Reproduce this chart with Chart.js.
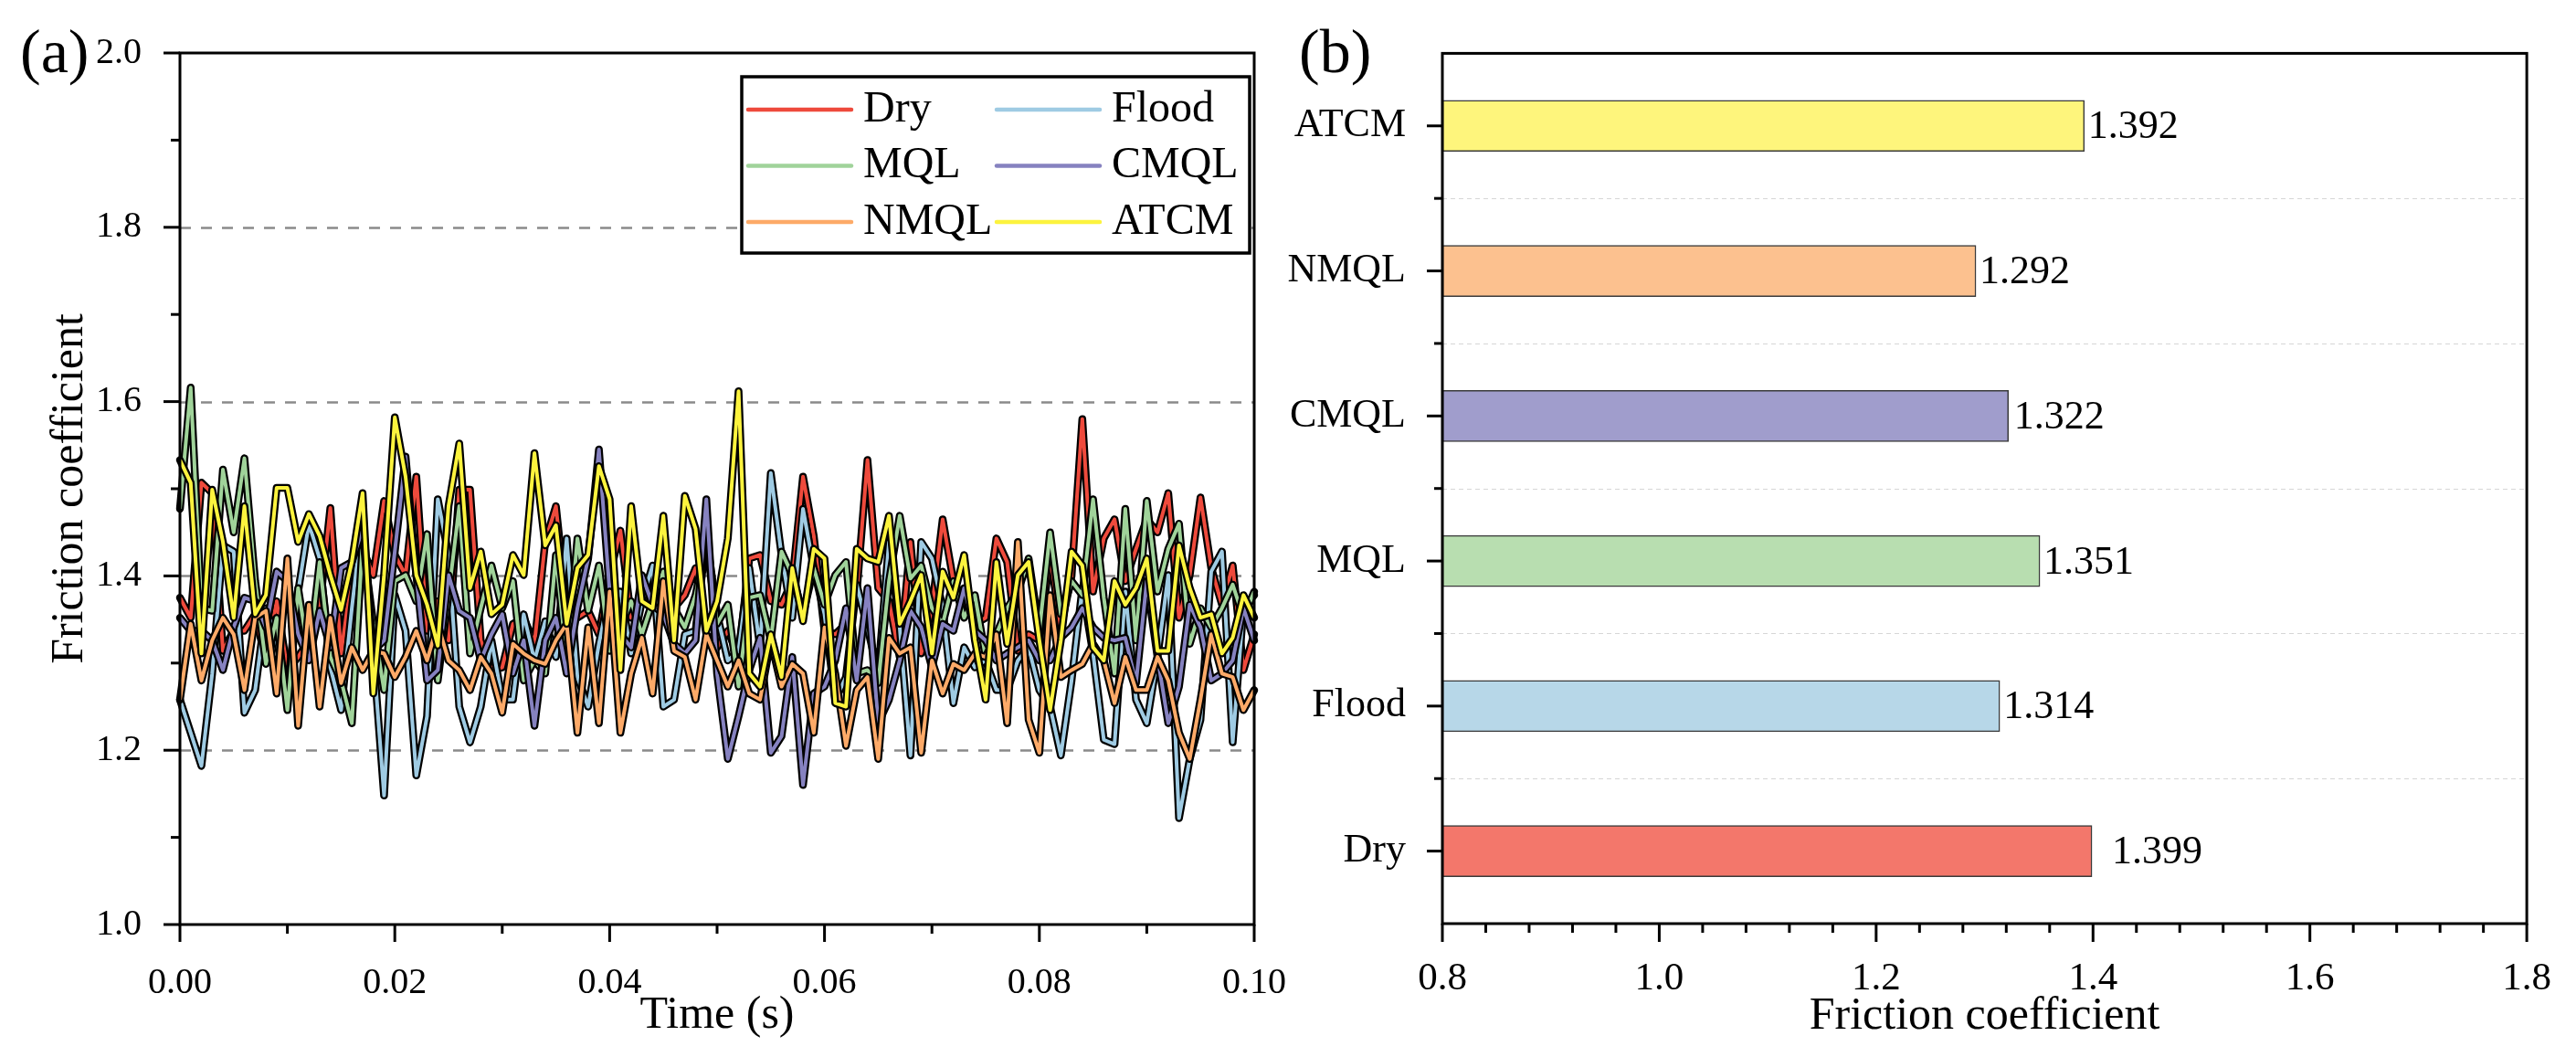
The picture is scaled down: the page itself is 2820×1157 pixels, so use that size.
<!DOCTYPE html>
<html>
<head>
<meta charset="utf-8">
<script src="https://cdn.jsdelivr.net/npm/chart.js@4.4.1/dist/chart.umd.min.js"></script>
<style>
  html, body { margin: 0; padding: 0; background: #fff; }
  #wrap { position: relative; width: 2820px; height: 1157px; }
  #left { position: absolute; left: 0; top: 0; }
  #right { position: absolute; left: 1400px; top: 0; }
</style>
</head>
<body>
<div id="wrap">
  <canvas id="left" width="1440" height="1157"></canvas>
  <canvas id="right" width="1420" height="1157"></canvas>
</div>
<script>
// ---- data (a): friction coefficient vs time, one sample per ms ----
const dry = [1.375, 1.352, 1.507, 1.495, 1.314, 1.337, 1.337, 1.356, 1.303, 1.371,
  1.292, 1.307, 1.326, 1.363, 1.478, 1.311, 1.401, 1.431, 1.401, 1.486,
  1.424, 1.401, 1.514, 1.337, 1.371, 1.326, 1.499, 1.499, 1.326, 1.292,
  1.295, 1.345, 1.352, 1.322, 1.439, 1.480, 1.363, 1.352, 1.360, 1.333,
  1.401, 1.452, 1.352, 1.371, 1.363, 1.378, 1.363, 1.378, 1.409, 1.333,
  1.318, 1.337, 1.307, 1.420, 1.424, 1.371, 1.367, 1.394, 1.514, 1.446,
  1.337, 1.333, 1.345, 1.382, 1.533, 1.386, 1.371, 1.307, 1.439, 1.311,
  1.363, 1.465, 1.394, 1.371, 1.345, 1.352, 1.443, 1.416, 1.314, 1.333,
  1.326, 1.424, 1.341, 1.400, 1.580, 1.382, 1.443, 1.465, 1.394, 1.431,
  1.465, 1.450, 1.495, 1.352, 1.401, 1.490, 1.409, 1.367, 1.412, 1.292,
  1.333];
const flood = [1.258, 1.220, 1.182, 1.288, 1.435, 1.428, 1.243, 1.269, 1.363, 1.326,
  1.269, 1.382, 1.460, 1.420, 1.295, 1.246, 1.363, 1.469, 1.311, 1.148,
  1.378, 1.337, 1.171, 1.239, 1.488, 1.424, 1.250, 1.209, 1.250, 1.326,
  1.258, 1.258, 1.356, 1.303, 1.348, 1.307, 1.443, 1.284, 1.250, 1.322,
  1.382, 1.382, 1.311, 1.371, 1.412, 1.250, 1.258, 1.333, 1.337, 1.446,
  1.356, 1.303, 1.314, 1.409, 1.318, 1.518, 1.424, 1.352, 1.477, 1.409,
  1.356, 1.258, 1.284, 1.390, 1.341, 1.288, 1.439, 1.341, 1.194, 1.439,
  1.420, 1.363, 1.254, 1.318, 1.295, 1.303, 1.269, 1.269, 1.303, 1.318,
  1.269, 1.250, 1.194, 1.280, 1.386, 1.311, 1.212, 1.207, 1.382, 1.258,
  1.231, 1.307, 1.401, 1.122, 1.190, 1.235, 1.405, 1.428, 1.209, 1.363,
  1.378];
const mql = [1.477, 1.616, 1.363, 1.360, 1.522, 1.450, 1.535, 1.394, 1.299, 1.352,
  1.246, 1.386, 1.307, 1.416, 1.307, 1.280, 1.231, 1.439, 1.345, 1.269,
  1.394, 1.401, 1.371, 1.448, 1.280, 1.378, 1.480, 1.311, 1.363, 1.412,
  1.363, 1.394, 1.280, 1.303, 1.288, 1.424, 1.303, 1.443, 1.360, 1.412,
  1.314, 1.341, 1.371, 1.333, 1.371, 1.405, 1.363, 1.341, 1.378, 1.439,
  1.345, 1.367, 1.273, 1.375, 1.378, 1.326, 1.428, 1.401, 1.356, 1.409,
  1.367, 1.401, 1.416, 1.288, 1.292, 1.277, 1.394, 1.469, 1.397, 1.412,
  1.363, 1.345, 1.394, 1.352, 1.378, 1.307, 1.333, 1.363, 1.382, 1.420,
  1.337, 1.450, 1.356, 1.394, 1.378, 1.488, 1.375, 1.288, 1.477, 1.326,
  1.486, 1.382, 1.431, 1.460, 1.322, 1.363, 1.341, 1.363, 1.390, 1.352,
  1.382];
const cmql = [1.352, 1.337, 1.337, 1.326, 1.292, 1.341, 1.375, 1.371, 1.341, 1.405,
  1.394, 1.333, 1.303, 1.360, 1.318, 1.409, 1.416, 1.454, 1.314, 1.326,
  1.428, 1.537, 1.401, 1.280, 1.292, 1.401, 1.360, 1.352, 1.303, 1.333,
  1.356, 1.288, 1.326, 1.228, 1.326, 1.352, 1.288, 1.363, 1.420, 1.545,
  1.382, 1.333, 1.318, 1.401, 1.367, 1.356, 1.322, 1.311, 1.326, 1.488,
  1.288, 1.190, 1.239, 1.292, 1.329, 1.197, 1.216, 1.307, 1.160, 1.265,
  1.273, 1.303, 1.363, 1.280, 1.386, 1.231, 1.258, 1.303, 1.360, 1.341,
  1.295, 1.345, 1.337, 1.386, 1.337, 1.326, 1.303, 1.311, 1.318, 1.326,
  1.303, 1.303, 1.329, 1.341, 1.363, 1.341, 1.329, 1.326, 1.329, 1.277,
  1.394, 1.307, 1.231, 1.273, 1.367, 1.341, 1.280, 1.288, 1.303, 1.363,
  1.326];
const nmql = [1.258, 1.345, 1.280, 1.326, 1.352, 1.333, 1.269, 1.352, 1.360, 1.265,
  1.420, 1.228, 1.367, 1.250, 1.352, 1.277, 1.318, 1.292, 1.314, 1.311,
  1.284, 1.307, 1.337, 1.303, 1.345, 1.303, 1.292, 1.269, 1.307, 1.288,
  1.243, 1.322, 1.311, 1.303, 1.299, 1.326, 1.345, 1.220, 1.341, 1.231,
  1.382, 1.220, 1.288, 1.329, 1.265, 1.394, 1.314, 1.307, 1.258, 1.333,
  1.303, 1.273, 1.303, 1.265, 1.258, 1.326, 1.273, 1.299, 1.288, 1.220,
  1.341, 1.288, 1.205, 1.269, 1.284, 1.190, 1.329, 1.311, 1.318, 1.197,
  1.303, 1.265, 1.299, 1.292, 1.311, 1.307, 1.333, 1.231, 1.439, 1.235,
  1.197, 1.378, 1.284, 1.292, 1.299, 1.322, 1.303, 1.254, 1.307, 1.269,
  1.269, 1.307, 1.280, 1.220, 1.190, 1.258, 1.333, 1.288, 1.284, 1.246,
  1.269];
const atcm = [1.533, 1.507, 1.311, 1.499, 1.439, 1.352, 1.480, 1.356, 1.378, 1.501,
  1.501, 1.439, 1.471, 1.446, 1.401, 1.361, 1.416, 1.495, 1.265, 1.401,
  1.582, 1.514, 1.401, 1.367, 1.320, 1.480, 1.552, 1.386, 1.428, 1.356,
  1.367, 1.424, 1.401, 1.541, 1.435, 1.458, 1.345, 1.409, 1.424, 1.526,
  1.488, 1.292, 1.480, 1.371, 1.363, 1.469, 1.326, 1.492, 1.454, 1.337,
  1.371, 1.443, 1.612, 1.288, 1.273, 1.333, 1.284, 1.409, 1.348, 1.431,
  1.420, 1.254, 1.250, 1.431, 1.420, 1.416, 1.469, 1.345, 1.371, 1.401,
  1.311, 1.405, 1.375, 1.424, 1.326, 1.258, 1.416, 1.322, 1.401, 1.416,
  1.326, 1.246, 1.326, 1.428, 1.412, 1.318, 1.303, 1.394, 1.367, 1.386,
  1.420, 1.314, 1.314, 1.435, 1.386, 1.352, 1.356, 1.311, 1.329, 1.378,
  1.352];

// ---- data (b): average friction coefficient ----
const methods = ['Dry', 'Flood', 'MQL', 'CMQL', 'NMQL', 'ATCM'];
const avgFriction = [1.399, 1.314, 1.351, 1.322, 1.292, 1.392];

const lineColors = ['#ee4a3c', '#9fcbe3', '#a0d39a', '#8682c0', '#fdaa68', '#fcf33e'];
const barColors = ['#f3776b', '#b7d7e8', '#b8deb0', '#a09dcc', '#fcc18f', '#fef57c'];
const series = [dry, flood, mql, cmql, nmql, atcm];

const time = dry.map((_, i) => +(i * 0.001).toFixed(3));
const serif = 'Liberation Serif, "Times New Roman", serif';
Chart.defaults.font.family = serif;
Chart.defaults.color = '#000';

// box, dashed grid lines and outward ticks (major + minor)
const framePlugin = {
  id: 'frame',
  beforeDatasetsDraw(chart, args, o) {
    const {ctx, chartArea: a} = chart;
    const s = chart.scales[o.gridAxis];
    ctx.save();
    ctx.strokeStyle = o.gridColor;
    ctx.lineWidth = o.gridWidth;
    ctx.setLineDash(o.gridDash);
    o.gridValues.forEach(v => {
      const p = Math.round(s.getPixelForValue(v)) + 0.5;
      ctx.beginPath();
      ctx.moveTo(a.left, p);
      ctx.lineTo(a.right, p);
      ctx.stroke();
    });
    ctx.restore();
  },
  afterDatasetsDraw(chart, args, o) {
    const {ctx, chartArea: a} = chart;
    ctx.save();
    ctx.strokeStyle = '#000';
    ctx.lineWidth = 3;
    ctx.strokeRect(a.left, a.top, a.right - a.left, a.bottom - a.top);
    o.ticks.forEach(t => {
      const s = chart.scales[t.axis];
      t.values.forEach(v => {
        const p = s.getPixelForValue(v);
        ctx.beginPath();
        if (s.isHorizontal()) {
          ctx.moveTo(p, a.bottom);
          ctx.lineTo(p, a.bottom + t.len);
        } else {
          ctx.moveTo(a.left, p);
          ctx.lineTo(a.left - t.len, p);
        }
        ctx.stroke();
      });
    });
    ctx.font = '68px ' + serif;
    ctx.fillStyle = '#000';
    ctx.textBaseline = 'alphabetic';
    ctx.fillText(o.panel, 22, 79);
    ctx.restore();
  }
};

// black casing under each coloured line
const outlinePlugin = {
  id: 'outline',
  beforeDatasetDraw(chart, args) {
    const pts = args.meta.data;
    const ctx = chart.ctx;
    ctx.save();
    ctx.beginPath();
    pts.forEach((p, i) => (i ? ctx.lineTo(p.x, p.y) : ctx.moveTo(p.x, p.y)));
    ctx.lineWidth = 8.5;
    ctx.strokeStyle = '#000';
    ctx.lineJoin = 'round';
    ctx.lineCap = 'round';
    ctx.stroke();
    ctx.restore();
  }
};

// two-column legend with frame
const legendPlugin = {
  id: 'boxLegend',
  afterDraw(chart) {
    const ctx = chart.ctx;
    ctx.save();
    ctx.fillStyle = '#fff';
    ctx.fillRect(812, 84, 556, 193);
    ctx.strokeStyle = '#000';
    ctx.lineWidth = 3.5;
    ctx.strokeRect(812, 84, 556, 193);
    ctx.font = '48px ' + serif;
    ctx.textBaseline = 'middle';
    chart.data.datasets.forEach((ds, i) => {
      const col = i % 2, row = Math.floor(i / 2);
      const x0 = col ? 1091 : 819;
      const y = 120 + row * 61.5;
      ctx.strokeStyle = ds.borderColor;
      ctx.lineWidth = 4.5;
      ctx.lineCap = 'round';
      ctx.beginPath();
      ctx.moveTo(x0, y);
      ctx.lineTo(x0 + 113, y);
      ctx.stroke();
      ctx.fillStyle = '#000';
      ctx.fillText(ds.label, x0 + 126, y);
    });
    ctx.restore();
  }
};

new Chart(document.getElementById('left'), {
  type: 'line',
  data: {
    labels: time,
    datasets: series.map((d, i) => ({
      label: methods[i],
      data: d.map((v, j) => ({x: time[j], y: v})),
      borderColor: lineColors[i],
      borderWidth: 4,
      borderJoinStyle: 'round',
      pointRadius: 0,
      fill: false,
      tension: 0,
      order: 6 - i
    }))
  },
  options: {
    responsive: false,
    animation: false,
    layout: {padding: {top: 47, right: 46, left: 0, bottom: 0}},
    plugins: {
      legend: {display: false},
      tooltip: {enabled: false},
      frame: {
        panel: '(a)',
        gridAxis: 'y',
        gridValues: [1.2, 1.4, 1.6, 1.8],
        gridColor: '#8a8a8a',
        gridWidth: 2.5,
        gridDash: [12, 11],
        ticks: [
          {axis: 'y', values: [1.0, 1.2, 1.4, 1.6, 1.8, 2.0], len: 18},
          {axis: 'y', values: [1.1, 1.3, 1.5, 1.7, 1.9], len: 10},
          {axis: 'x', values: [0, 0.02, 0.04, 0.06, 0.08, 0.1], len: 19},
          {axis: 'x', values: [0.01, 0.03, 0.05, 0.07, 0.09], len: 10}
        ]
      }
    },
    scales: {
      x: {
        type: 'linear',
        min: 0,
        max: 0.1,
        grid: {display: false},
        border: {display: false},
        ticks: {stepSize: 0.02, padding: 32, font: {size: 40}, callback: v => v.toFixed(2), maxRotation: 0},
        title: {display: true, text: 'Time (s)', font: {size: 50}, padding: {top: 0, bottom: 15}},
        afterFit(s) { s.height = 145; }
      },
      y: {
        min: 1.0,
        max: 2.0,
        grid: {display: false},
        border: {display: false},
        ticks: {stepSize: 0.2, padding: 34, font: {size: 40}, callback: v => v.toFixed(1)},
        title: {display: true, text: 'Friction coefficient', font: {size: 50}, padding: {top: 47, bottom: 0}},
        afterFit(s) { s.width = 197; }
      }
    }
  },
  plugins: [outlinePlugin, framePlugin, legendPlugin]
});

// value labels at the end of each bar
const labelGap = [22, 4, 4, 6, 4, 4];
const valueLabelPlugin = {
  id: 'valueLabels',
  afterDatasetsDraw(chart) {
    const ctx = chart.ctx;
    const meta = chart.getDatasetMeta(0);
    ctx.save();
    ctx.font = '44px ' + serif;
    ctx.fillStyle = '#000';
    ctx.textBaseline = 'middle';
    meta.data.forEach((bar, i) => {
      ctx.fillText(avgFriction[i].toFixed(3), bar.x + labelGap[i], bar.y + 2);
    });
    ctx.restore();
  }
};

new Chart(document.getElementById('right'), {
  type: 'bar',
  data: {
    labels: methods,
    datasets: [{
      data: avgFriction,
      base: 0.8,
      backgroundColor: barColors,
      borderColor: '#3a3a3a',
      borderWidth: 1.5,
      borderSkipped: false,
      barThickness: 56
    }]
  },
  options: {
    indexAxis: 'y',
    responsive: false,
    animation: false,
    layout: {padding: {top: 47, right: 44, left: 0, bottom: 0}},
    plugins: {
      legend: {display: false},
      tooltip: {enabled: false},
      frame: {
        panel: '(b)',
        gridAxis: 'y',
        gridValues: [0.5, 1.5, 2.5, 3.5, 4.5],
        gridColor: '#d6d6d6',
        gridWidth: 1,
        gridDash: [5, 4],
        ticks: [
          {axis: 'y', values: [0, 1, 2, 3, 4, 5], len: 17},
          {axis: 'y', values: [0.5, 1.5, 2.5, 3.5, 4.5], len: 9},
          {axis: 'x', values: [0.8, 1.0, 1.2, 1.4, 1.6, 1.8], len: 20},
          {axis: 'x', values: [0.84, 0.88, 0.92, 0.96, 1.04, 1.08, 1.12, 1.16, 1.24, 1.28, 1.32, 1.36,
            1.44, 1.48, 1.52, 1.56, 1.64, 1.68, 1.72, 1.76], len: 10}
        ]
      }
    },
    scales: {
      x: {
        type: 'linear',
        min: 0.8,
        max: 1.8,
        grid: {display: false},
        border: {display: false},
        ticks: {stepSize: 0.2, padding: 27, font: {size: 43}, callback: v => v.toFixed(1), maxRotation: 0},
        title: {display: true, text: 'Friction coefficient', font: {size: 50}, padding: {top: 0, bottom: 14}},
        afterFit(s) { s.height = 146; }
      },
      y: {
        reverse: true,
        grid: {display: false},
        border: {display: false},
        ticks: {padding: 32, font: {size: 44}},
        afterFit(s) { s.width = 179; }
      }
    }
  },
  plugins: [framePlugin, valueLabelPlugin]
});
</script>
</body>
</html>
